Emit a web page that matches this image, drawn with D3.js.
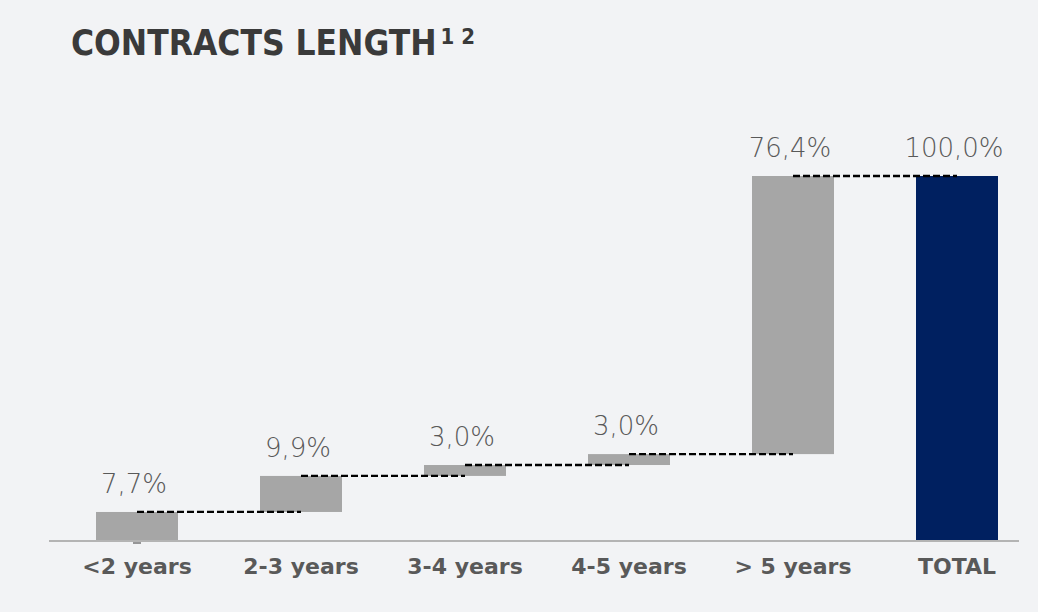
<!DOCTYPE html>
<html>
<head>
<meta charset="utf-8">
<script src="https://cdn.jsdelivr.net/npm/d3@7"></script>
<style>
  body { margin: 0; background: #f2f3f5; }
  svg { display: block; }
</style>
</head>
<body>
<svg width="1038" height="612"></svg>
<script>
// chart data
const categories = ['<2 years', '2-3 years', '3-4 years', '4-5 years', '> 5 years', 'TOTAL'];
const values = [7.7, 9.9, 3.0, 3.0, 76.4, 100.0];
const valueLabels = ['7,7%', '9,9%', '3,0%', '3,0%', '76,4%', '100,0%'];
const totalFlags = [false, false, false, false, false, true];

const svg = d3.select('svg');
const baseY = 540;

// waterfall start / end for each bar
let running = 0;
const bars = categories.map((c, i) => {
    let start, end;
    if (totalFlags[i]) { start = 0; end = values[i]; }
    else { start = running; end = running + values[i]; running = end; }
    return { cat: c, start: start, end: end, label: valueLabels[i], total: totalFlags[i] };
});

const x = d3.scaleBand().domain(categories).range([55, 1039]).paddingInner(0.5).paddingOuter(0.25);
const y = d3.scaleLinear().domain([0, 100]).range([baseY, 176]);

svg.append('rect').attr('width', 1038).attr('height', 612).attr('fill', '#f2f3f5');

// title
const title = svg.append('text')
    .attr('x', 71).attr('y', 55)
    .style('font-family', '"DejaVu Sans Condensed", "DejaVu Sans", sans-serif')
    .style('font-stretch', 'condensed')
    .style('font-weight', 'bold')
    .style('font-size', '35px')
    .attr('fill', '#3a3a3a')
    .text('CONTRACTS LENGTH');
title.append('tspan')
    .attr('dx', 4)
    .attr('dy', -11)
    .style('font-size', '22px')
    .text('1 2');

// bars
svg.selectAll('.bar')
    .data(bars)
    .enter()
    .append('rect')
        .attr('class', 'bar')
        .attr('x', d => x(d.cat))
        .attr('width', x.bandwidth())
        .attr('y', d => y(d.end))
        .attr('height', d => y(d.start) - y(d.end))
        .attr('fill', d => d.total ? '#002060' : '#a6a6a6');

// dashed connectors, from the middle of a bar to the middle of the next one
const connectors = bars.slice(0, -1).map((d, i) => ({ from: d.cat, to: bars[i + 1].cat, v: d.end }));
svg.selectAll('.conn')
    .data(connectors)
    .enter()
    .append('line')
        .attr('class', 'conn')
        .attr('x1', d => x(d.from) + x.bandwidth() / 2)
        .attr('x2', d => x(d.to) + x.bandwidth() / 2)
        .attr('y1', d => y(d.v))
        .attr('y2', d => y(d.v))
        .attr('stroke', '#000')
        .attr('stroke-width', 2.3)
        .attr('stroke-dasharray', '7,3');

// small mark under the first bar
svg.append('line')
    .attr('x1', x(categories[0]) + x.bandwidth() / 2 - 4)
    .attr('x2', x(categories[0]) + x.bandwidth() / 2 + 4)
    .attr('y1', baseY + 3).attr('y2', baseY + 3)
    .attr('stroke', '#777').attr('stroke-width', 1.5);

// axis
const axis = svg.append('g')
    .attr('transform', 'translate(0,' + (baseY + 1) + ')')
    .call(d3.axisBottom(x).tickSize(0).tickPadding(14));
axis.select('.domain').remove();
axis.append('line')
    .attr('x1', 49).attr('x2', 1019)
    .attr('stroke', '#b4b4b4').attr('stroke-width', 2);
axis.selectAll('.tick text')
    .style('font-family', '"DejaVu Sans", sans-serif')
    .style('font-weight', 'bold')
    .style('font-size', '22px')
    .attr('fill', '#595959')
    .attr('dy', '0.85em');

// value labels
svg.selectAll('.val')
    .data(bars)
    .enter()
    .append('text')
        .attr('class', 'val')
        .attr('x', d => x(d.cat) + x.bandwidth() / 2 - 3)
        .attr('y', d => y(d.end) - 19)
        .attr('text-anchor', 'middle')
        .style('font-family', '"DejaVu Sans", sans-serif')
        .style('font-weight', 200)
        .style('font-size', '26px')
        .attr('fill', '#595959')
        .text(d => d.label);
</script>
</body>
</html>
